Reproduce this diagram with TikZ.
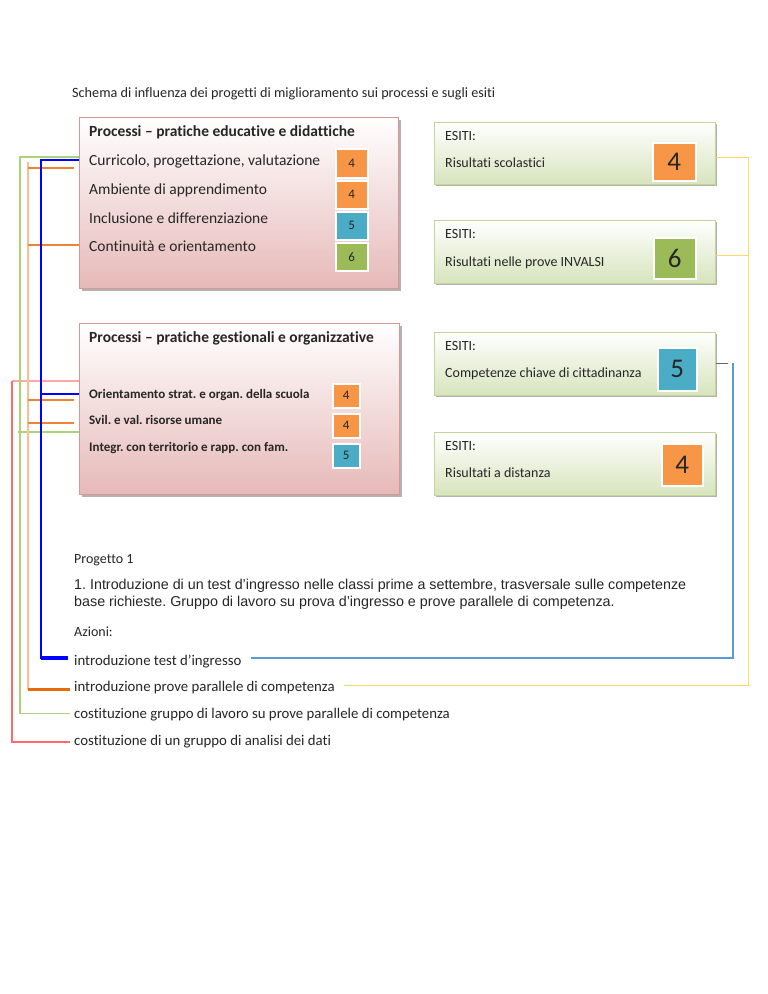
\documentclass[tikz,border=0pt]{standalone}
\usepackage{fontspec}
\setmainfont{Carlito}[Ligatures={NoCommon}]
\newfontfamily\arialf{Liberation Sans}
\usetikzlibrary{shadows,calc}
\frenchspacing
\definecolor{pinkline}{HTML}{D99694}
\definecolor{pinkfill}{HTML}{E6B9B8}
\definecolor{greenline}{HTML}{C3D69B}
\definecolor{greenfill}{HTML}{D7E4BD}
\definecolor{boxorange}{HTML}{F79646}
\definecolor{boxblue}{HTML}{4BACC6}
\definecolor{boxgreen}{HTML}{9BBB59}
\definecolor{lblue}{HTML}{0000FF}
\definecolor{peach}{HTML}{FAC090}
\definecolor{lorange}{HTML}{EE8434}
\definecolor{dorange}{HTML}{E46C0A}
\definecolor{lgreen}{HTML}{A9D47A}
\definecolor{lred}{HTML}{FF6B6B}
\definecolor{pred}{HTML}{FFA8A8}
\definecolor{ryellow}{HTML}{FFD966}
\definecolor{rblue}{HTML}{5B9BD5}
\begin{document}
\begin{tikzpicture}[x=1pt,y=-1pt,
  pinkbox/.style={draw=pinkline, line width=0.8pt, top color=white, bottom color=pinkfill,
    inner sep=0, anchor=north west,
    drop shadow={shadow xshift=2.5pt,shadow yshift=-2.5pt,fill=black,opacity=0.3}},
  greenbox/.style={draw=greenline, line width=0.8pt, top color=white, bottom color=greenfill,
    inner sep=0, anchor=north west,
    drop shadow={shadow xshift=2pt,shadow yshift=-2pt,fill=black,opacity=0.3}},
  numbox/.style={draw=white, line width=1.5pt, inner sep=0, anchor=north west, text=black!85,
    drop shadow={shadow xshift=1.5pt,shadow yshift=-1.5pt,fill=black,opacity=0.3}},
  txt/.style={inner sep=0, anchor=base west, text=black!85, font=\fontsize{14}{17}\selectfont},
  acttxt/.style={txt, font=\fontsize{14.8}{17}\selectfont},
  rowtxt/.style={txt, font=\fontsize{15.5}{18}\selectfont},
  headtxt/.style={txt, font=\fontsize{15.5}{18}\selectfont\bfseries},
  smalltxt/.style={txt, font=\fontsize{13}{15}\selectfont\bfseries},
  partxt/.style={txt, font=\arialf\fontsize{14.3}{17}\selectfont},
  bigdigit/.style={font=\fontsize{27}{30}\selectfont},
  smalldigit/.style={font=\fontsize{13}{15}\selectfont},
  bluel/.style={draw=lblue, line width=1.6pt},
  orangev/.style={draw=peach, line width=1.2pt},
  orangeh/.style={draw=lorange, line width=1.2pt},
  greenl/.style={draw=lgreen, line width=1.2pt},
  redl/.style={draw=lred, line width=1.5pt},
  yell/.style={draw=ryellow, line width=1pt},
  rbluel/.style={draw=rblue, line width=1.5pt}]
\useasboundingbox (0,0) rectangle (768,994);
\fill[white] (0,0) rectangle (768,994);

\node[txt, font=\fontsize{14.2}{17}\selectfont] (title) at (72,97) {Schema di influenza dei progetti di miglioramento sui processi e sugli esiti};

% process box 1
\node[pinkbox, minimum width=319pt, minimum height=171pt] (p1) at (79,117) {};
\node[headtxt] (p1h) at (89,136) {Processi – pratiche educative e didattiche};
\node[rowtxt] (r1) at (89,165) {Curricolo, progettazione, valutazione};
\node[rowtxt] (r2) at (89,194) {Ambiente di apprendimento};
\node[rowtxt] (r3) at (89,223) {Inclusione e differenziazione};
\node[rowtxt] (r4) at (89,251) {Continuità e orientamento};
\node[numbox, smalldigit, fill=boxorange, minimum width=32pt, minimum height=29pt] (n1) at (335,148) {4};
\node[numbox, smalldigit, fill=boxorange, minimum width=32pt, minimum height=28pt] (n2) at (335,180) {4};
\node[numbox, smalldigit, fill=boxblue, minimum width=32pt, minimum height=28pt] (n3) at (335,211) {5};
\node[numbox, smalldigit, fill=boxgreen, minimum width=32pt, minimum height=28pt] (n4) at (335,242) {6};

% process box 2
\node[pinkbox, minimum width=320pt, minimum height=171pt] (p2) at (79,323) {};
\node[headtxt] (p2h) at (89,342) {Processi – pratiche gestionali e organizzative};
\node[smalltxt] (s1) at (89,398) {Orientamento strat. e organ. della scuola};
\node[smalltxt] (s2) at (89,424) {Svil. e val. risorse umane};
\node[smalltxt] (s3) at (89,451) {Integr. con territorio e rapp. con fam.};
\node[numbox, smalldigit, fill=boxorange, minimum width=27pt, minimum height=24pt] (m1) at (332,383) {4};
\node[numbox, smalldigit, fill=boxorange, minimum width=27pt, minimum height=24pt] (m2) at (332,413) {4};
\node[numbox, smalldigit, fill=boxblue, minimum width=27pt, minimum height=24pt] (m3) at (332,443) {5};

% esiti boxes
\node[greenbox, minimum width=281pt, minimum height=62pt] (eA) at (434,122) {};
\node[txt] (eAh) at (445,140) {ESITI:};
\node[txt] (eAt) at (445,167) {Risultati scolastici};
\node[numbox, bigdigit, fill=boxorange, minimum width=43pt, minimum height=38pt] (nA) at (652,142) {4};

\node[greenbox, minimum width=281pt, minimum height=63pt] (eB) at (434,220) {};
\node[txt] (eBh) at (445,238) {ESITI:};
\node[txt] (eBt) at (445,266) {Risultati nelle prove INVALSI};
\node[numbox, bigdigit, fill=boxgreen, minimum width=42pt, minimum height=41pt] (nB) at (653,237) {6};

\node[greenbox, minimum width=281pt, minimum height=63pt] (eC) at (434,332) {};
\node[txt] (eCh) at (445,350) {ESITI:};
\node[txt] (eCt) at (445,377) {Competenze chiave di cittadinanza};
\node[numbox, bigdigit, fill=boxblue, minimum width=39pt, minimum height=43pt] (nC) at (657,347) {5};

\node[greenbox, minimum width=281pt, minimum height=63pt] (eD) at (434,432) {};
\node[txt] (eDh) at (445,450) {ESITI:};
\node[txt] (eDt) at (445,477) {Risultati a distanza};
\node[numbox, bigdigit, fill=boxorange, minimum width=41pt, minimum height=42pt] (nD) at (661,443) {4};

% project text
\node[txt] (prog) at (74,563) {Progetto 1};
\node[partxt] (par1) at (74,589) {1. Introduzione di un test d’ingresso nelle classi prime a settembre, trasversale sulle competenze};
\node[partxt] (par2) at (74,606) {base richieste. Gruppo di lavoro su prova d’ingresso e prove parallele di competenza.};
\node[txt] (az) at (74,636) {Azioni:};
\node[acttxt] (a1) at (74,665) {introduzione test d’ingresso};
\node[acttxt] (a2) at (74,691) {introduzione prove parallele di competenza};
\node[acttxt] (a3) at (74,718) {costituzione gruppo di lavoro su prove parallele di competenza};
\node[acttxt] (a4) at (74,745) {costituzione di un gruppo di analisi dei dati};

% connector end points next to the action texts
\coordinate (a1w) at ($(a1.west)+(-6,-3)$);
\coordinate (a2w) at ($(a2.west)+(-4,2)$);
\coordinate (a3w) at ($(a3.west)+(-4,-1)$);
\coordinate (a4w) at ($(a4.west)+(-4,1)$);
\coordinate (a1e) at ($(a1.east)+(9,-3)$);
\coordinate (a2e) at ($(a2.east)+(9,-2)$);
\coordinate (eAe) at ($(eA.east)+(0,4)$);
\coordinate (eBe) at ($(eB.east)+(0,3.5)$);

% red
\draw[draw=pred, line width=1.5pt] (12,381) -- (p2.west |- 0,381);
\draw[redl] (a4w) -| (12,381);
% green
\draw[greenl] (a3w) -| (20,157) -- (p1.west |- 0,157);
\draw[greenl] (18,432) -- (p2.west |- 0,432);
% orange
\draw[orangev] (a2w) -| (28,162);
\draw[orangeh] (28,168) -- (74,168);
\draw[orangeh] (28,245) -- (p1.west |- 0,245);
\draw[orangeh] (28,400) -- (74,400);
\draw[orangeh] (28,423) -- (74,423);
\draw[draw=dorange, line width=3pt] (a2w) -- (a2w -| 28,0);
% blue
\draw[bluel] (a1w) -| (41,160) -- (p1.west |- 0,160);
\draw[bluel] (41,394) -- (p2.west |- 0,394);
\draw[draw=lblue, line width=3.5pt] (a1w) -- (a1w -| 41,0);

% right connectors
\draw[yell] (eAe) -- (eAe -| 748,0) |- (a2e);
\draw[yell] (eBe) -- (eBe -| 748,0);
\draw[draw=black!60, line width=1pt] (eC.east) -- (eC.east -| 728,0);
\draw[rbluel] (733,363) |- (a1e);
\end{tikzpicture}
\end{document}
